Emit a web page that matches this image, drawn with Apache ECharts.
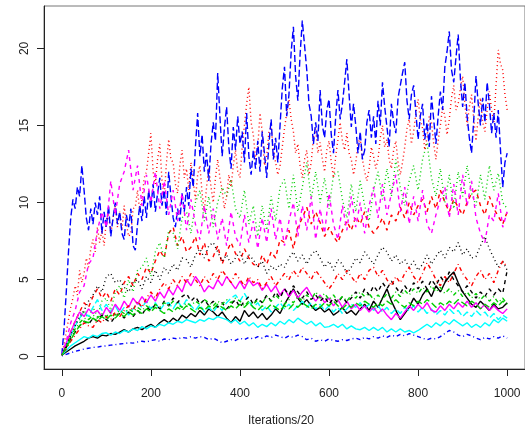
<!DOCTYPE html>
<html>
<head>
<meta charset="utf-8">
<script src="https://cdn.jsdelivr.net/npm/echarts@6/dist/echarts.min.js"></script>
<style>
html,body{margin:0;padding:0;background:#fff;}
#chart{width:525px;height:433px;}
</style>
</head>
<body>
<div id="chart"></div>
<script>
const xTicks = [0, 200, 400, 600, 800, 1000];
const yTicks = [0, 5, 10, 15, 20];
const xTitle = 'Iterations/20';
const xMax = 1000; // last iteration; each series is sampled evenly from 0 to xMax

// 1 black solid (every 10)
const s01 = [0.1,0.3,0.5,0.7,0.85,1.0,1.2,1.3,1.2,1.4,1.35,1.5,1.45,1.6,1.75,1.6,1.8,1.9,1.75,1.95,2.1,1.9,2.2,2.4,2.2,2.5,2.3,2.7,2.5,2.8,2.6,3.0,2.7,3.1,2.9,2.6,2.9,2.5,2.2,2.6,2.3,3.0,2.6,2.9,2.5,2.8,2.4,2.7,3.1,2.8,3.4,3.9,4.4,3.8,3.4,3.7,3.3,3.0,3.2,2.9,3.1,2.7,2.9,3.2,2.8,3.0,2.7,3.1,3.4,3.0,3.6,3.2,3.8,4.4,3.6,3.0,2.4,2.8,3.2,3.8,3.4,4.0,4.4,3.9,4.6,4.2,4.8,5.2,5.5,4.8,4.2,3.8,3.4,3.2,3.6,3.3,3.0,3.4,3.1,3.2,3.5];
// 2 red dashed
const s02 = [0.1,0.8,1.6,2.3,2.9,3.5,3.2,3.9,4.4,3.8,4.2,3.6,4.4,4.0,4.8,5.2,4.6,5.4,5.0,5.8,5.4,6.2,6.9,6.4,8.0,8.4,7.2,7.8,6.8,7.1,7.8,6.6,7.4,6.2,6.5,7.2,6.0,6.8,7.4,6.7,6.2,7.0,6.4,6.0,5.8,6.6,6.0,6.8,6.4,7.6,7.4,8.2,7.0,8.4,9.0,9.7,8.6,9.4,8.7,7.8,8.4,7.8,7.4,8.2,8.8,8.2,9.1,8.6,9.4,8.4,8.0,8.4,9.0,8.2,9.2,8.8,9.7,9.0,10.0,9.2,9.8,10.2,9.4,10.4,9.6,10.8,10.0,9.4,10.2,9.7,9.2,10.0,10.6,10.8,9.8,9.2,10.4,9.6,9.1,8.6,9.4];
// 3 green dotted
const s03 = [0.1,0.8,1.6,2.2,2.4,3.0,2.4,3.2,2.6,3.6,3.8,3.0,4.2,4.6,3.8,5.0,4.2,5.6,5.8,6.4,5.2,6.8,7.4,6.4,8.2,8.0,7.0,9.0,9.4,8.0,10.0,10.8,8.8,10.4,8.4,10.0,11.0,10.4,11.5,9.6,9.0,10.8,8.6,9.8,7.8,9.8,8.2,10.4,8.8,11.0,11.5,9.6,11.8,9.4,11.0,12.6,10.2,12.0,10.0,11.6,9.6,11.8,12.0,10.2,9.0,11.2,9.4,11.4,9.8,8.8,10.8,12.0,10.2,12.2,10.4,12.8,11.0,9.8,11.4,12.4,10.8,12.8,13.9,11.6,10.4,12.2,10.0,11.8,9.6,12.0,10.4,12.4,10.6,9.8,11.8,10.2,12.4,10.8,11.9,10.0,9.6];
// 4 blue dotdash (low)
const s04 = [0.05,0.15,0.25,0.35,0.42,0.5,0.55,0.6,0.62,0.68,0.7,0.75,0.78,0.82,0.85,0.9,0.88,0.95,1.0,0.95,1.05,1.1,1.0,1.15,1.1,1.2,1.15,1.25,1.2,1.3,1.2,1.3,1.25,1.1,1.2,1.05,0.9,1.0,1.1,1.05,1.2,1.1,1.25,1.15,1.3,1.2,1.35,1.25,1.4,1.3,1.2,1.35,1.25,1.4,1.3,1.1,1.2,1.0,1.1,1.0,1.15,1.05,1.0,1.1,1.05,1.15,1.2,1.1,1.25,1.15,1.3,1.2,1.35,1.25,1.4,1.3,1.45,1.35,1.5,1.4,1.3,1.2,1.1,1.2,1.15,1.3,1.5,1.7,1.6,1.4,1.3,1.45,1.35,1.2,1.1,1.25,1.15,1.3,1.2,1.35,1.2];
// 5 cyan longdash
const s05 = [0.1,0.7,1.4,2.0,2.5,2.9,2.6,3.2,3.7,3.0,3.4,2.9,3.3,2.8,3.2,2.7,3.1,3.5,3.2,3.6,3.1,3.5,3.0,3.4,3.5,3.1,3.6,3.2,3.7,3.3,3.0,3.4,2.9,3.2,2.9,3.3,3.0,3.5,3.8,4.0,3.6,4.1,3.6,3.2,3.5,3.0,3.3,2.9,3.2,3.5,3.1,3.4,3.0,3.3,3.6,3.2,3.5,3.1,3.4,3.0,3.3,2.9,3.2,2.8,3.1,3.4,3.2,3.5,3.1,3.4,3.0,3.3,2.9,3.2,2.8,3.1,2.8,3.2,3.0,3.3,2.9,3.2,2.8,3.1,2.7,3.0,2.7,3.1,2.8,3.0,2.6,2.9,2.6,3.0,2.7,2.9,2.5,2.8,2.4,2.7,2.5];
// 6 magenta solid
const s06 = [0.1,0.9,1.6,2.3,2.9,2.6,3.1,2.8,3.0,2.6,3.2,2.8,3.4,3.0,3.6,3.2,3.8,3.4,3.9,3.5,4.0,3.6,4.2,3.8,4.4,4.0,4.6,4.2,5.0,4.6,5.2,4.8,4.2,4.6,4.4,5.0,4.6,5.2,4.8,4.4,4.9,4.4,5.0,4.6,4.8,4.3,4.7,4.2,4.6,4.0,4.4,3.9,4.3,3.8,4.2,4.5,4.0,3.6,4.0,3.5,3.8,3.3,3.7,3.2,3.6,3.1,3.4,3.0,3.3,2.9,3.2,2.8,3.1,2.7,2.4,2.8,2.5,2.9,3.3,3.0,3.4,3.1,3.5,3.0,2.9,3.3,3.0,3.4,3.1,3.5,3.2,3.6,3.2,3.5,3.1,3.4,3.0,3.3,3.0,2.8,3.1];
// 7 black dashed
const s07 = [0.1,0.6,1.2,1.6,2.0,2.3,2.1,2.5,2.3,2.7,2.4,2.2,2.6,2.8,2.5,2.9,2.6,3.0,2.7,3.2,3.0,3.4,3.1,3.6,3.3,3.8,3.5,3.9,4.1,3.6,3.9,3.4,3.7,3.3,3.6,3.2,3.5,3.1,3.4,3.7,3.2,3.6,3.9,3.4,3.8,3.5,4.0,3.6,4.2,3.8,4.4,4.0,4.6,4.2,3.8,4.2,3.7,4.0,3.6,3.9,3.4,3.8,3.5,3.9,3.5,3.8,4.2,3.8,4.4,4.0,4.6,4.2,4.8,4.4,4.9,4.5,4.1,4.6,4.2,4.8,4.4,4.9,4.4,5.0,4.6,5.2,4.8,5.5,5.0,4.6,4.2,4.6,4.2,3.8,4.2,3.9,4.4,4.0,4.4,4.1,5.6];
// 8 red dotted (every 5)
const s08 = [0.1,0.8,1.6,2.4,3.2,3.8,4.6,4.0,5.6,4.8,5.4,6.4,5.8,7.0,7.6,6.8,8.4,7.4,8.2,7.2,8.9,9.2,8.0,9.0,9.8,8.4,9.4,8.2,9.8,8.6,7.8,8.0,9.6,9.7,10.8,9.4,10.2,11.6,12.0,13.2,14.5,12.0,11.2,12.8,13.8,11.4,10.4,12.6,14.1,12.8,12.6,11.2,10.6,12.4,13.4,11.6,12.2,10.8,12.6,11.4,10.2,11.8,12.4,10.6,9.4,11.0,12.3,11.0,10.0,11.6,12.8,11.6,10.8,9.6,10.4,11.8,11.0,12.4,13.4,12.0,11.6,13.6,15.0,16.4,17.5,15.2,14.4,12.8,13.6,15.8,14.6,12.4,13.0,14.6,14.9,13.4,12.6,11.8,12.4,13.6,14.8,15.8,16.7,15.4,14.6,13.2,13.8,12.4,11.6,12.8,13.4,11.8,12.6,14.2,14.8,13.2,13.9,12.8,12.0,13.4,14.0,12.6,11.6,13.0,14.1,15.2,14.0,13.4,14.5,13.2,12.8,11.8,12.6,13.8,14.2,12.8,12.0,11.4,12.2,13.6,13.0,12.2,12.8,14.2,15.0,13.6,14.1,12.8,12.2,13.4,14.0,12.6,11.8,12.6,13.6,14.8,15.4,13.8,14.6,15.8,16.7,15.4,14.8,13.4,14.2,15.6,15.2,13.8,12.8,14.0,15.0,16.2,15.6,14.4,15.4,16.8,17.6,16.0,16.4,17.4,18.2,16.4,15.0,16.2,17.0,15.4,14.0,15.6,16.8,15.2,14.6,16.0,17.2,16.0,15.2,17.6,19.9,19.0,18.6,17.0,16.0];
// 9 green dotdash
const s09 = [0.1,0.7,1.3,1.8,2.2,2.5,2.4,2.7,2.5,2.8,2.6,2.9,2.7,3.0,2.8,3.1,2.9,3.2,3.0,3.3,3.1,3.4,3.2,3.5,3.3,3.6,3.4,3.2,3.5,3.3,3.6,3.4,3.7,3.5,3.3,3.6,3.4,3.7,3.5,3.8,3.6,3.3,3.6,3.4,3.7,3.5,3.9,3.6,4.0,3.7,3.4,3.7,3.5,3.9,3.6,4.0,3.7,4.2,3.8,4.1,3.7,4.0,3.6,3.9,3.6,4.0,3.8,4.2,3.9,4.1,3.7,4.0,3.7,4.1,3.8,4.2,3.9,4.3,4.0,4.4,4.1,4.5,4.2,4.6,4.2,4.5,4.1,4.4,4.0,4.3,3.9,4.2,3.8,4.1,3.7,4.0,3.6,3.9,3.5,3.8,3.4];
// 10 blue longdash (top, every 5)
const s10 = [0.1,1.8,4.2,6.8,9.0,10.2,9.6,11.0,10.4,12.4,10.8,9.0,8.2,9.6,8.6,10.0,9.2,10.4,8.0,9.4,8.4,9.8,7.8,9.0,10.0,8.6,9.4,8.0,7.6,9.2,8.4,9.6,7.2,6.9,8.6,9.8,8.8,10.4,9.0,10.8,9.6,11.2,9.4,10.6,11.6,9.8,10.8,9.2,12.0,10.4,9.0,8.4,9.6,8.8,10.6,9.4,11.0,9.8,12.2,11.0,13.6,15.8,13.0,14.4,12.0,13.2,11.4,13.8,15.2,14.0,18.4,15.6,13.0,14.8,16.2,13.6,12.2,14.9,13.4,15.6,13.8,14.6,12.6,15.8,13.0,11.8,13.4,12.2,14.0,12.0,14.6,13.2,11.6,13.8,15.4,12.8,14.2,12.6,15.0,17.4,18.8,15.6,17.0,19.8,21.4,18.2,16.6,19.6,21.8,20.2,18.6,16.4,15.6,13.8,15.2,14.0,17.3,15.0,14.2,16.0,16.7,14.4,13.2,15.6,17.3,15.4,16.4,17.8,19.3,17.0,14.9,16.4,15.0,13.2,14.6,12.8,13.4,15.2,16.0,14.2,15.6,13.8,16.6,15.0,17.8,16.2,14.9,13.6,16.4,15.2,14.5,16.8,17.6,18.4,19.1,16.6,15.4,17.0,17.6,15.8,14.1,15.6,16.4,14.1,15.2,13.6,16.9,15.4,13.8,15.6,17.2,16.0,18.8,19.8,21.1,18.6,17.8,19.4,20.9,18.0,16.2,17.8,15.6,14.2,13.2,15.4,18.2,16.4,15.0,16.8,15.2,17.8,16.4,14.5,15.8,14.2,16.0,13.4,11.0,12.6,13.2];
// 11 cyan solid
const s11 = [0.1,0.4,0.7,0.9,1.1,1.3,1.2,1.4,1.3,1.5,1.55,1.4,1.6,1.5,1.7,1.6,1.8,1.7,1.95,1.8,2.0,1.9,2.1,2.0,2.2,2.1,2.3,2.2,2.4,2.3,2.2,2.4,2.3,2.5,2.4,2.6,2.5,2.4,2.2,2.4,2.1,2.3,2.0,2.2,1.9,2.1,1.95,2.2,2.0,2.3,2.1,2.4,2.2,2.5,2.3,2.1,2.3,2.0,2.2,1.9,1.95,2.1,1.9,2.1,1.8,2.0,1.8,1.75,1.9,1.7,1.9,1.7,1.9,1.6,1.8,1.6,1.8,1.6,1.7,1.55,1.7,1.9,2.1,1.9,2.2,2.0,2.3,2.1,2.4,2.2,2.0,2.2,1.9,2.1,1.9,2.2,2.0,2.4,2.2,2.5,2.3];
// 12 magenta dashed
const s12 = [0.1,1.0,2.2,3.0,4.2,4.6,6.0,6.4,8.2,9.4,8.4,11.4,9.2,11.2,12.0,13.4,10.8,12.4,9.8,11.8,10.0,12.0,9.6,11.4,9.2,10.8,8.8,10.6,8.2,10.2,8.6,7.6,9.8,8.0,9.6,7.6,9.0,7.2,9.4,7.8,7.2,9.2,7.4,8.8,7.0,9.0,7.4,9.6,7.6,9.0,7.2,8.8,10.0,7.8,9.8,8.2,10.4,7.6,9.6,8.0,10.6,8.6,7.6,9.8,8.2,10.4,8.4,10.0,8.0,9.8,11.0,9.0,11.2,9.2,10.6,11.8,9.4,11.0,8.6,10.4,8.8,10.8,8.6,8.0,9.2,10.2,11.0,9.0,11.2,9.2,11.8,9.8,11.4,9.0,8.0,7.4,9.2,8.8,10.6,8.4,9.4];
// 13 black dotted
const s13 = [0.1,0.7,1.4,2.0,2.6,3.0,3.6,4.0,4.6,4.2,5.2,5.4,4.8,5.0,4.5,4.2,4.8,5.0,4.4,5.2,4.8,5.6,5.0,5.8,5.4,6.0,5.6,6.4,6.3,5.8,6.6,7.0,6.4,7.2,7.4,6.8,6.2,6.6,6.0,6.4,6.8,6.0,6.6,6.3,5.8,6.2,5.4,5.9,5.6,6.0,5.8,6.4,6.8,6.2,6.6,6.0,6.6,6.9,6.4,5.8,6.2,5.6,6.3,6.0,5.4,5.8,6.4,6.1,6.8,6.4,6.0,6.6,7.1,6.8,6.2,6.6,6.0,6.3,5.8,6.2,5.6,6.0,6.6,6.0,6.5,6.9,6.4,7.1,6.8,7.4,6.6,7.0,6.4,6.5,7.2,7.8,7.0,6.4,5.8,6.2,5.6];
// 14 red dotdash
const s14 = [0.1,0.5,1.0,1.4,1.8,2.2,2.0,1.9,2.4,2.2,2.6,2.4,2.9,2.6,3.0,3.3,3.0,3.6,3.2,3.8,4.2,3.8,4.4,4.8,4.4,5.0,4.6,5.2,4.8,5.4,5.0,4.6,5.2,4.8,5.4,5.0,5.6,5.2,4.8,5.4,5.0,4.6,5.2,4.8,5.0,4.4,4.8,5.2,4.6,5.0,5.4,5.0,5.6,5.2,5.8,5.4,5.0,5.6,5.2,4.8,4.4,4.8,5.4,5.0,5.6,5.2,4.8,5.4,5.0,5.6,5.8,5.2,5.6,5.0,4.6,5.2,4.8,5.4,5.8,5.2,4.8,5.4,6.1,5.6,5.0,4.6,5.2,4.8,5.4,6.0,5.4,5.0,4.6,5.2,5.6,5.0,5.4,4.8,5.6,6.2,5.8];
// 15 green longdash
const s15 = [0.1,0.6,1.1,1.6,2.0,2.3,2.2,2.5,2.3,2.6,2.4,2.7,2.5,2.8,2.6,2.9,2.7,3.0,2.8,3.1,2.9,3.2,3.0,2.8,3.1,2.9,3.2,3.0,3.3,3.1,2.9,3.2,3.0,3.3,3.1,3.4,3.2,3.0,3.3,3.1,3.4,3.2,3.5,3.2,3.0,3.3,3.1,3.4,3.2,3.0,3.3,3.1,3.4,3.2,3.5,3.3,3.1,3.4,3.2,3.5,3.3,3.6,3.3,3.1,3.4,3.2,3.5,3.3,3.6,3.4,3.2,3.5,3.3,3.6,3.4,3.7,3.4,3.2,3.5,3.3,3.6,3.4,3.7,3.5,3.2,3.5,3.3,3.6,3.4,3.7,3.5,3.3,3.6,3.4,3.1,3.4,3.2,3.5,3.3,3.6,3.4];

const seriesValues = [s01,s02,s03,s04,s05,s06,s07,s08,s09,s10,s11,s12,s13,s14,s15];
const seriesNames = ['1','2','3','4','5','6','7','8','9','10','11','12','13','14','15'];

// R matplot defaults: col 1:6, lty 1:5 recycled
const palette = ['#000000','#FF0000','#00CD00','#0000FF','#00FFFF','#FF00FF'];
const dashes = ['solid',[4,4],[1,3],[1,3,4,3],[7,3]];

const series = seriesValues.map((vals, i) => {
  const step = xMax / (vals.length - 1);
  return {
    name: seriesNames[i],
    type: 'line',
    data: vals.map((v, j) => [j * step, v]),
    showSymbol: false,
    symbol: 'none',
    silent: true,
    lineStyle: { color: palette[i % 6], width: 1.4, type: dashes[i % 5] },
    z: 2 + i
  };
});

const chart = echarts.init(document.getElementById('chart'), null, { renderer: 'canvas' });
chart.setOption({
  animation: false,
  backgroundColor: '#ffffff',
  grid: { left: 44, top: 6, width: 485, height: 363, show: true, borderColor: '#777', borderWidth: 1, backgroundColor: 'transparent' },
  xAxis: {
    type: 'value', min: -40, max: 1040,
    splitLine: { show: false },
    axisLine: { show: true, onZero: false, lineStyle: { color: '#222', width: 1 } },
    axisTick: { show: true, customValues: xTicks, length: 7, lineStyle: { color: '#222' } },
    axisLabel: { customValues: xTicks, formatter: v => String(v), margin: 19, color: '#222', fontSize: 12, fontFamily: 'Liberation Sans, Arial, sans-serif' }
  },
  yAxis: {
    type: 'value', min: -0.8, max: 22.75,
    splitLine: { show: false },
    axisLine: { show: true, onZero: false, lineStyle: { color: '#222', width: 1 } },
    axisTick: { show: true, customValues: yTicks, length: 7, lineStyle: { color: '#222' } },
    axisLabel: { customValues: yTicks, formatter: v => String(v), rotate: 90, margin: 13, color: '#222', fontSize: 12, fontFamily: 'Liberation Sans, Arial, sans-serif' }
  },
  graphic: [{
    type: 'text', x: 281, y: 421,
    style: { text: xTitle, textAlign: 'center', textVerticalAlign: 'middle', fill: '#222', font: '12px "Liberation Sans", Arial, sans-serif' }
  }],
  series: series
});
</script>
</body>
</html>
